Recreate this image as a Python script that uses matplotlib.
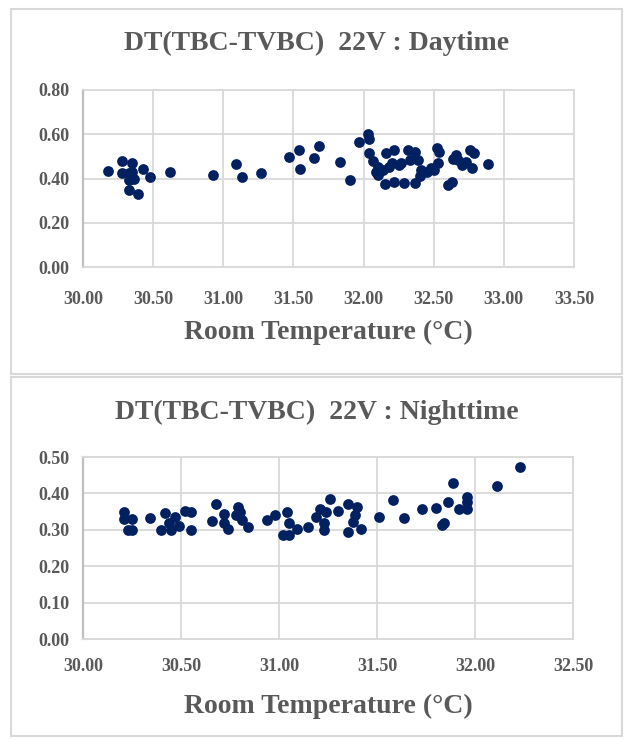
import matplotlib
matplotlib.use("Agg")
import matplotlib.pyplot as plt
from matplotlib.patches import Rectangle

# ---- data ----
day_temp = [30.18, 30.28, 30.35, 30.28, 30.33, 30.35, 30.43, 30.33, 30.36, 30.48,
            30.33, 30.39, 30.62, 30.93, 31.09, 31.13, 31.27, 31.47, 31.54, 31.55,
            31.65, 31.68, 31.83, 31.90, 31.97, 32.03, 32.04, 32.04, 32.07, 32.10,
            32.09, 32.10, 32.15, 32.16, 32.22, 32.20, 32.25, 32.22, 32.29, 32.32,
            32.37, 32.33, 32.27, 32.39, 32.41, 32.37, 32.40, 32.48, 32.50, 32.53,
            32.52, 32.54, 32.60, 32.63, 32.66, 32.64, 32.67, 32.70, 32.76, 32.79,
            32.73, 32.77, 32.89, 32.14, 32.18, 32.45]
day_dt = [0.435, 0.478, 0.468, 0.425, 0.423, 0.430, 0.441, 0.393, 0.400, 0.405,
          0.347, 0.328, 0.430, 0.415, 0.464, 0.408, 0.423, 0.498, 0.531, 0.445,
          0.494, 0.546, 0.475, 0.395, 0.566, 0.600, 0.577, 0.513, 0.478, 0.453,
          0.430, 0.415, 0.375, 0.513, 0.528, 0.470, 0.460, 0.385, 0.378, 0.531,
          0.520, 0.483, 0.468, 0.483, 0.438, 0.378, 0.410, 0.446, 0.438, 0.468,
          0.536, 0.520, 0.370, 0.385, 0.506, 0.490, 0.483, 0.460, 0.528, 0.513,
          0.475, 0.446, 0.464, 0.440, 0.450, 0.430]

night_temp = [30.21, 30.21, 30.25, 30.25, 30.23, 30.34, 30.40, 30.42, 30.44, 30.45,
              30.47, 30.49, 30.52, 30.55, 30.55, 30.66, 30.68, 30.72, 30.72, 30.74,
              30.79, 30.78, 30.81, 30.84, 30.80, 30.94, 30.98, 31.04, 31.05, 31.02,
              31.05, 31.09, 31.15, 31.19, 31.21, 31.24, 31.23, 31.23, 31.26, 31.30,
              31.35, 31.40, 31.39, 31.38, 31.35, 31.42, 31.51, 31.58, 31.64, 31.73,
              31.80, 31.86, 31.84, 31.83, 31.89, 31.96, 31.96, 31.92, 31.96, 32.11,
              32.23]
night_dt = [0.350, 0.330, 0.330, 0.300, 0.300, 0.333, 0.300, 0.345, 0.320, 0.300,
            0.335, 0.310, 0.353, 0.350, 0.300, 0.325, 0.370, 0.344, 0.320, 0.303,
            0.362, 0.340, 0.326, 0.308, 0.350, 0.326, 0.340, 0.350, 0.320, 0.285,
            0.285, 0.303, 0.308, 0.335, 0.358, 0.350, 0.318, 0.300, 0.385, 0.353,
            0.372, 0.362, 0.340, 0.321, 0.294, 0.303, 0.335, 0.381, 0.333, 0.356,
            0.360, 0.376, 0.320, 0.312, 0.428, 0.390, 0.376, 0.356, 0.356, 0.420,
            0.472]

day_xticks = [30.0, 30.5, 31.0, 31.5, 32.0, 32.5, 33.0, 33.5]
day_yticks = [0.0, 0.2, 0.4, 0.6, 0.8]
night_xticks = [30.0, 30.5, 31.0, 31.5, 32.0, 32.5]
night_yticks = [0.0, 0.1, 0.2, 0.3, 0.4, 0.5]

title_day = "DT(TBC-TVBC)  22V : Daytime"
title_night = "DT(TBC-TVBC)  22V : Nighttime"
xlabel = "Room Temperature (°C)"

# ---- style ----
W, H = 627, 739
TXT = "#595959"
GRID = "#d9d9d9"
DOT = "#002060"
FONT = "Liberation Serif"

fig = plt.figure(figsize=(W / 100, H / 100), dpi=100)
fig.patch.set_facecolor("white")

def px_rect(l, t, r, b):
    return [l / W, 1 - b / H, (r - l) / W, (b - t) / H]

# panel boxes
for (l, t, r, b) in [(11, 9, 622, 374), (11, 377, 622, 736)]:
    x0, y0, w, h = px_rect(l, t, r, b)
    fig.patches.append(Rectangle((x0, y0), w, h, transform=fig.transFigure,
                                 fill=False, edgecolor="#d9d9d9", linewidth=1.5))

def make_panel(rect, xs, ys, xt, yt, title, title_y, label_y, xpad):
    ax = fig.add_axes(px_rect(*rect))
    ax.scatter(xs, ys, s=60, color=DOT, zorder=3, linewidths=0)
    ax.set_xlim(xt[0], xt[-1])
    ax.set_ylim(yt[0], yt[-1])
    ax.set_xticks(xt)
    ax.set_yticks(yt)
    ax.set_xticklabels([f"{v:.2f}" for v in xt])
    ax.set_yticklabels([f"{v:.2f}" for v in yt])
    ax.grid(True, color=GRID, linewidth=1.3, zorder=0)
    ax.set_axisbelow(True)
    for s in ax.spines.values():
        s.set_color(GRID)
        s.set_linewidth(1.3)
    ax.spines["left"].set_color("#bfbfbf")
    ax.spines["left"].set_linewidth(1.6)
    ax.tick_params(axis="y", length=0, pad=10, labelsize=13, labelcolor=TXT)
    ax.tick_params(axis="x", length=0, pad=xpad, labelsize=13, labelcolor=TXT)
    for lab in ax.get_xticklabels() + ax.get_yticklabels():
        lab.set_fontfamily(FONT)
        lab.set_fontweight("bold")
    fig.text(0.505, 1 - title_y / H, title, ha="center", va="center",
             fontsize=20, fontweight="bold", color=TXT, family=FONT)
    fig.text(0.523, 1 - label_y / H, xlabel, ha="center", va="center",
             fontsize=20, fontweight="bold", color=TXT, family=FONT)
    return ax

make_panel((83, 90, 574, 267), day_temp, day_dt, day_xticks, day_yticks,
           title_day, 43, 332, 17)
make_panel((83, 457, 573, 639), night_temp, night_dt, night_xticks, night_yticks,
           title_night, 412, 706, 14)

fig.savefig("out.png", dpi=100, facecolor="white")
